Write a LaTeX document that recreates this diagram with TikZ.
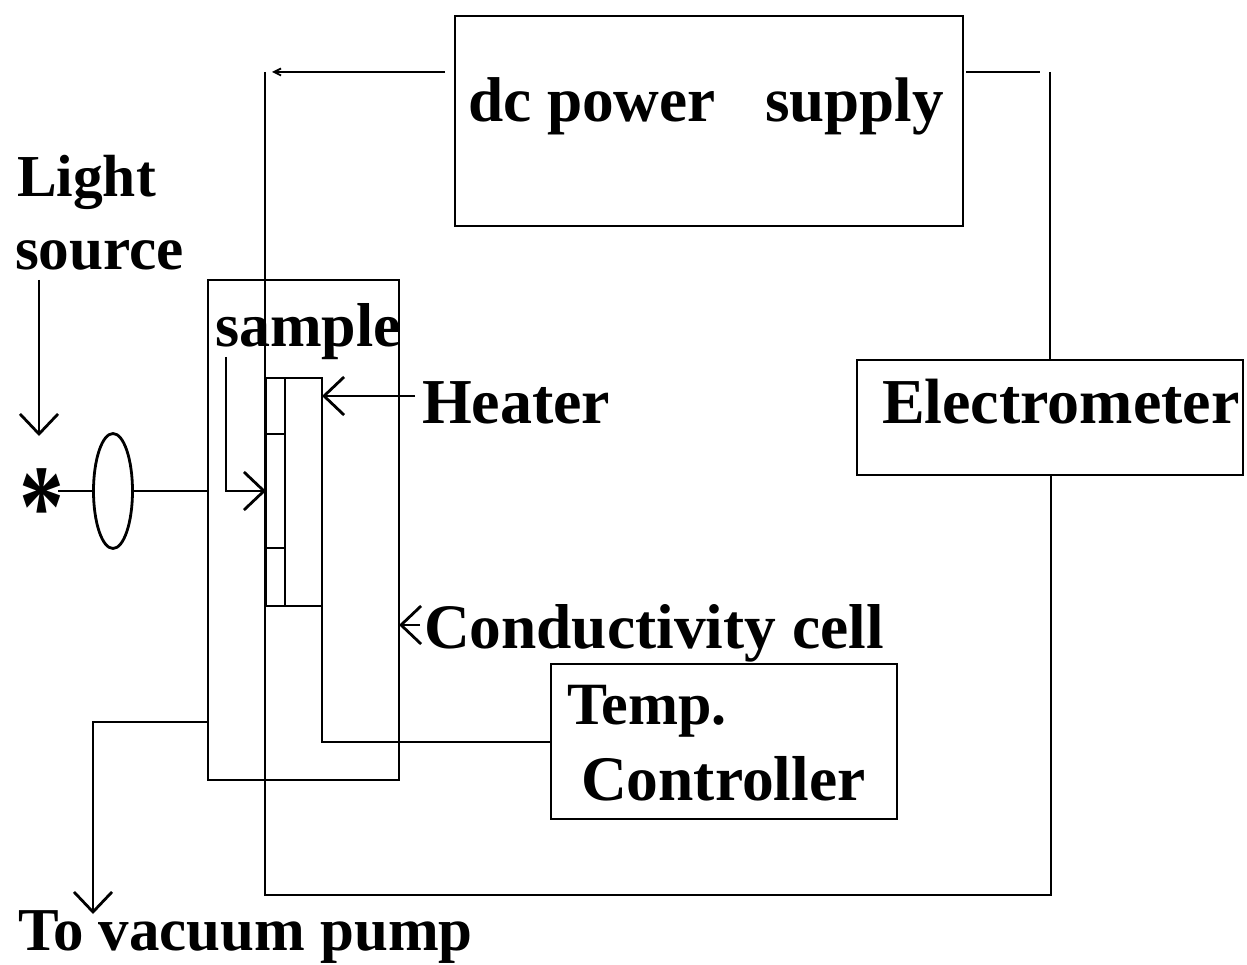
\documentclass[tikz,border=0pt]{standalone}
\usepackage{fontspec}
\setmainfont{Liberation Serif}
\usetikzlibrary{arrows.meta,shapes.geometric}
\newcommand{\labsize}[1]{\fontsize{#1}{#1}\selectfont}
\tikzset{
  x=1pt,y=-1pt,
  wire/.style={line width=2.8pt,black,line join=miter},
  thinwire/.style={line width=2.2pt,black},
  boxnode/.style={draw=black,line width=2.8pt,rectangle,inner sep=0pt,outer sep=0pt,fill=none},
  openarrow/.style={-{Straight Barb[length=20pt,width=38pt,line width=2.8pt]}},
  tinyarrow/.style={-{Straight Barb[length=7pt,width=7pt,line width=1.8pt]}},
  lab/.style={font=\bfseries,anchor=base west,inner sep=0pt,outer sep=0pt,text=black}
}
\begin{document}
\begin{tikzpicture}
\useasboundingbox (0,0) rectangle (1247,965);
% boxes
\node[boxnode,minimum width=508pt,minimum height=210pt] (psu) at (709,121) {};
\node[boxnode,minimum width=386pt,minimum height=115pt] (elec) at (1050,417.5) {};
\node[boxnode,minimum width=346pt,minimum height=155pt] (temp) at (724,741.5) {};
\node[boxnode,minimum width=191pt,minimum height=500pt] (cell) at (303.5,530) {};
\node[boxnode,minimum width=37pt,minimum height=228pt] (heater) at (303.5,492) {};
\node[boxnode,minimum width=19pt,minimum height=228pt] (strip) at (275.5,492) {};
\node[draw=black,line width=2.8pt,ellipse,inner sep=0pt,outer sep=0pt,minimum width=39pt,minimum height=115pt] (lens) at (113,491) {};
\node[font=\bfseries,inner sep=0pt,anchor=base] (star) at (42,546) {\scalebox{0.76}[1]{\labsize{118}*}};
% sample partitions
\coordinate (t1l) at (266,434); \coordinate (t1r) at (285,434);
\coordinate (t2l) at (266,548); \coordinate (t2r) at (285,548);
\draw[wire] (t1l) -- (t1r);
\draw[wire] (t2l) -- (t2r);
% main circuit
\coordinate (lefttop) at (265,72);
\coordinate (leftbot) at (265,895);
\coordinate (rightbot) at (1051,895);
\coordinate (righttop) at (1050,72);
\coordinate (psuL) at (445,72);
\coordinate (psuLtip) at (272,72);
\coordinate (psuR) at (966,72);
\coordinate (rightgap) at (1040,72);
\draw[wire] (lefttop) -- (leftbot) -- (rightbot) -- (elec.south -| rightbot);
\draw[wire] (righttop) -- (elec.north -| righttop);
\draw[thinwire,tinyarrow] (psuL) -- (psuLtip);
\draw[thinwire] (psuR) -- (rightgap);
% heater to controller
\coordinate (hbend) at (322,742);
\draw[wire] (heater.south east) -- (hbend) -- (temp.west |- hbend);
% optics
\coordinate (starR) at (58,491);
\draw[thinwire] (starR) -- (lens.west);
\draw[thinwire] (lens.east) -- (cell.west |- lens.east);
% pointers
\coordinate (lightA) at (39,280);
\coordinate (lightB) at (39,436);
\draw[thinwire,openarrow] (lightA) -- (lightB);
\coordinate (sampA) at (226,357);
\coordinate (sampB) at (226,491);
\draw[wire,openarrow] (sampA) -- (sampB) -- (strip.west |- sampB);
\coordinate (heatA) at (415,396);
\draw[wire,openarrow] (heatA) -- (heater.east |- heatA);
\coordinate (condA) at (420,625);
\draw[wire,openarrow] (condA) -- (cell.east |- condA);
% vacuum
\coordinate (vacA) at (208,722);
\coordinate (vacB) at (93,722);
\coordinate (vacC) at (93,914);
\draw[thinwire,openarrow] (cell.west |- vacA) -- (vacB) -- (vacC);
% labels
\node[lab] (l1) at (468,122) {\labsize{63.3}dc power};
\node[lab] (l2) at (765,122) {\labsize{63}supply};
\node[lab] (l3) at (17,197) {\labsize{59.5}Light};
\node[lab] (l4) at (15,270) {\labsize{61.3}source};
\node[lab] (l5) at (215,347) {\labsize{62}sample};
\node[lab] (l6) at (422,423) {\labsize{64}Heater};
\node[lab] (l7) at (882,423) {\labsize{64}Electrometer};
\node[lab] (l8) at (424,648) {\labsize{63.4}Conductivity cell};
\node[lab] (l9) at (567,724) {\labsize{60}Temp.};
\node[lab] (l10) at (581,800) {\labsize{63.5}Controller};
\node[lab] (l11) at (18,950) {\labsize{60.9}To vacuum pump};
\end{tikzpicture}
\end{document}
